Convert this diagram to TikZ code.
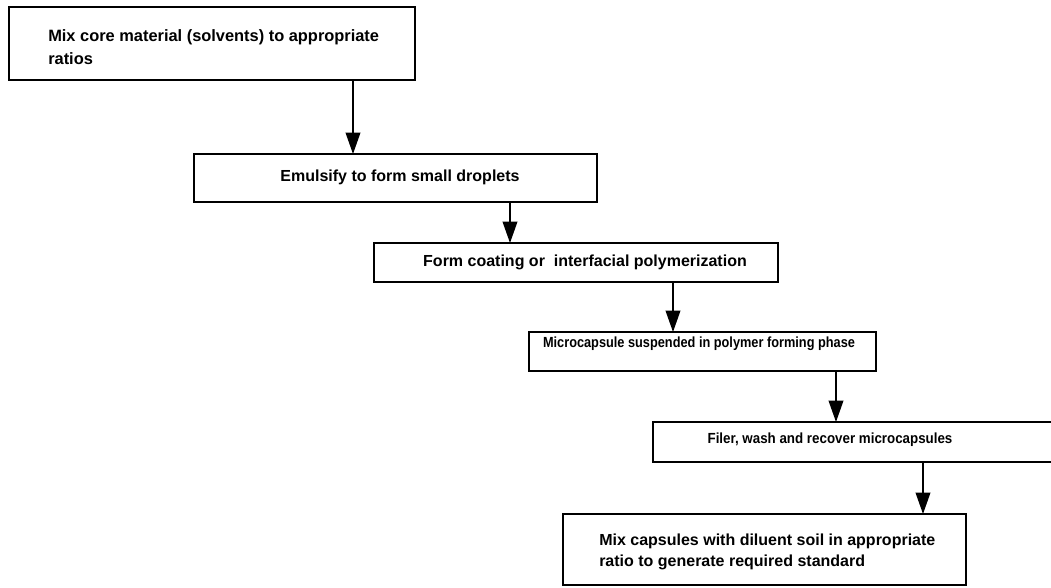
\documentclass[tikz,border=0pt]{standalone}
\usepackage{graphicx}
\usepackage{fontspec}
\setmainfont{Liberation Sans}
\usetikzlibrary{arrows.meta}
\begin{document}
\begin{tikzpicture}[x=0.75pt,y=-0.75pt,
  box/.style={draw, line width=1.3pt, inner sep=0pt, outer sep=0pt},
  lbl/.style={inner sep=0pt, font=\bfseries\fontsize{12}{17}\selectfont},
  small/.style={inner sep=0pt, font=\bfseries\fontsize{11}{12}\selectfont},
  flow/.style={line width=1.1pt, -{Triangle[length=16pt,width=11pt]}}]
\useasboundingbox (0,0) rectangle (1051,587);
\clip (0,0) rectangle (1051,587);
\fill[white] (0,0) rectangle (1051,587);
% boxes
\node[box, minimum width=304.5pt, minimum height=54.75pt] (b1) at (212,43.5) {};
\node[box, minimum width=302.25pt, minimum height=36pt] (b2) at (395.5,178) {};
\node[box, minimum width=303pt, minimum height=29.25pt] (b3) at (576,262.5) {};
\node[box, minimum width=260.25pt, minimum height=29.25pt] (b4) at (702.5,351.5) {};
\node[box, minimum width=305.25pt, minimum height=30pt] (b5) at (856.5,442) {};
\node[box, minimum width=302.25pt, minimum height=53.25pt] (b6) at (764.5,549.5) {};
% texts
\node[lbl, anchor=west, align=left, font=\bfseries\fontsize{12.3}{17}\selectfont] (t1) at (48,47) {Mix core material (solvents) to appropriate\\ratios};
\node[lbl] (t2) at (400,177) {Emulsify to form small droplets};
\node[lbl] (t3) at (585,262) {Form coating or\ \ interfacial polymerization};
\node[small] (t4) at (699,344) {\scalebox{0.87}[1]{Microcapsule suspended in polymer forming phase}};
\node[small] (t5) at (830,440) {\scalebox{0.91}[1]{Filer, wash and recover microcapsules}};
\node[lbl, anchor=west, align=left, font=\bfseries\fontsize{12}{16}\selectfont] (t6) at (599,552) {Mix capsules with diluent soil in appropriate\\ratio to generate required standard};
% arrow columns
\coordinate (x1) at (353,0);
\coordinate (x2) at (510,0);
\coordinate (x3) at (673,0);
\coordinate (x4) at (836,0);
\coordinate (x5) at (923,0);
\draw[flow] (x1 |- b1.south) -- (x1 |- b2.north);
\draw[flow] (x2 |- b2.south) -- (x2 |- b3.north);
\draw[flow] (x3 |- b3.south) -- (x3 |- b4.north);
\draw[flow] (x4 |- b4.south) -- (x4 |- b5.north);
\draw[flow] (x5 |- b5.south) -- (x5 |- b6.north);
\end{tikzpicture}
\end{document}
